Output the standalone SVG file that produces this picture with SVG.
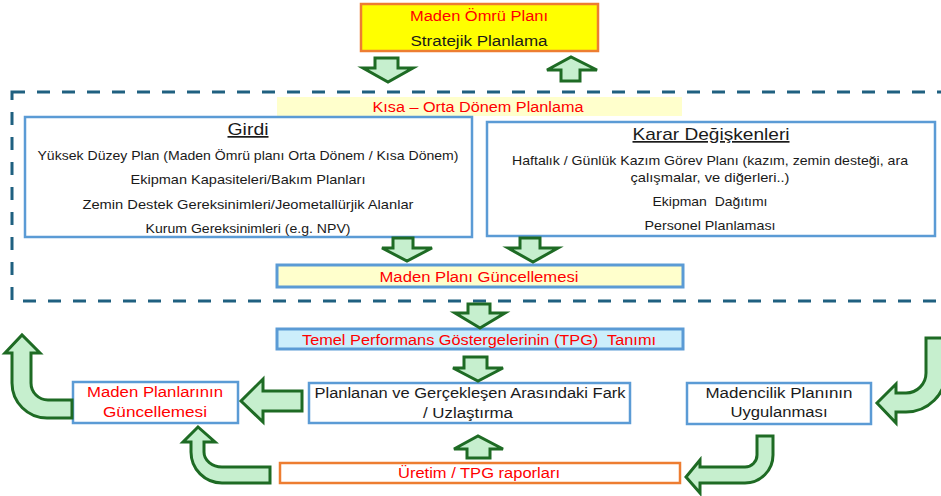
<svg xmlns="http://www.w3.org/2000/svg" width="941" height="496" viewBox="0 0 941 496">
<style>
text{font-family:"Liberation Sans",Arial,sans-serif;text-anchor:middle;white-space:pre}
.r{fill:#FF0000}
.k{fill:#1a1a1a}
.b13{font-size:13px}
.b14{font-size:14px}
.t{font-size:17px;text-decoration:underline}
.blue{fill:#fff;stroke:#5B9BD5;stroke-width:2.5}
.orange{stroke:#ED7D31;stroke-width:2.5}
.arr{fill:#C6EFCE;stroke:#1E6B24;stroke-width:3;stroke-linejoin:miter}
</style>
<rect id="dashed-region" x="12" y="92" width="945" height="209" fill="none" stroke="#1F6080" stroke-width="3" stroke-dasharray="13 12"/>
<g id="n-lom">
<rect x="361" y="4" width="237" height="47" fill="#FFFF00" class="orange"/>
<text x="479" y="21" class="r b14" font-size="15" textLength="138" lengthAdjust="spacingAndGlyphs">Maden Ömrü Planı</text>
<text x="479" y="46" class="k b14" font-size="15" textLength="137" lengthAdjust="spacingAndGlyphs">Stratejik Planlama</text>
</g>
<g id="n-banner">
<rect x="277" y="97" width="405" height="19" fill="#FFFFCC"/>
<text x="478" y="112" class="r b14" textLength="211" lengthAdjust="spacingAndGlyphs">Kısa – Orta Dönem Planlama</text>
</g>
<g id="n-girdi">
<rect x="25" y="117" width="447" height="120" class="blue"/>
<text x="248" y="135" class="k t" textLength="41" lengthAdjust="spacingAndGlyphs">Girdi</text>
<text x="248" y="160" class="k b13" textLength="421" lengthAdjust="spacingAndGlyphs">Yüksek Düzey Plan (Maden Ömrü planı Orta Dönem / Kısa Dönem)</text>
<text x="248" y="184" class="k b13" textLength="235" lengthAdjust="spacingAndGlyphs">Ekipman Kapasiteleri/Bakım Planları</text>
<text x="248" y="209" class="k b13" textLength="331" lengthAdjust="spacingAndGlyphs">Zemin Destek Gereksinimleri/Jeometallürjik Alanlar</text>
<text x="248" y="233" class="k b13" textLength="205" lengthAdjust="spacingAndGlyphs">Kurum Gereksinimleri (e.g. NPV)</text>
</g>
<g id="n-karar">
<rect x="487" y="122" width="448" height="114" class="blue"/>
<text x="711" y="140" class="k t" textLength="157" lengthAdjust="spacingAndGlyphs">Karar Değişkenleri</text>
<text x="710" y="165" class="k b13" textLength="396" lengthAdjust="spacingAndGlyphs">Haftalık / Günlük Kazım Görev Planı (kazım, zemin desteği, ara</text>
<text x="710" y="182" class="k b13" textLength="159" lengthAdjust="spacingAndGlyphs">çalışmalar, ve diğerleri..)</text>
<text x="710" y="206" class="k b13" textLength="115" lengthAdjust="spacingAndGlyphs" xml:space="preserve">Ekipman  Dağıtımı</text>
<text x="710" y="230" class="k b13" textLength="131" lengthAdjust="spacingAndGlyphs">Personel Planlaması</text>
</g>
<g id="n-mpg">
<rect x="277" y="265" width="406" height="22" fill="#FFFFCC" stroke="#5B9BD5" stroke-width="3"/>
<text x="479" y="282" class="r b14" textLength="199" lengthAdjust="spacingAndGlyphs">Maden Planı Güncellemesi</text>
</g>
<g id="n-tpg">
<rect x="277" y="329" width="406" height="20" fill="#CCEEFB" stroke="#5B9BD5" stroke-width="3"/>
<text x="479" y="345" class="r b14" textLength="354" lengthAdjust="spacingAndGlyphs" xml:space="preserve">Temel Performans Göstergelerinin (TPG)  Tanımı</text>
</g>
<g id="n-fark">
<rect x="309" y="383" width="321" height="40" class="blue"/>
<text x="470" y="398" class="k b14" textLength="311" lengthAdjust="spacingAndGlyphs">Planlanan ve Gerçekleşen Arasındaki Fark</text>
<text x="468" y="418" class="k b14" textLength="90" lengthAdjust="spacingAndGlyphs">/ Uzlaştırma</text>
</g>
<g id="n-guncel">
<rect x="73" y="382" width="165" height="41" class="blue"/>
<text x="155" y="397" class="r b14" textLength="136" lengthAdjust="spacingAndGlyphs">Maden Planlarının</text>
<text x="155" y="417" class="r b14" textLength="104" lengthAdjust="spacingAndGlyphs">Güncellemesi</text>
</g>
<g id="n-uygula">
<rect x="687" y="383" width="184" height="41" class="blue"/>
<text x="779" y="398" class="k b14" textLength="147" lengthAdjust="spacingAndGlyphs">Madencilik Planının</text>
<text x="779" y="417" class="k b14" textLength="97" lengthAdjust="spacingAndGlyphs">Uygulanması</text>
</g>
<g id="n-uretim">
<rect x="280" y="463" width="400" height="20" fill="#fff" class="orange"/>
<text x="479" y="478" class="r b14" textLength="162" lengthAdjust="spacingAndGlyphs">Üretim / TPG raporları</text>
</g>
<g id="connectors" class="arr">
<path d="M375,58 H398 V68 H413 L388,82 L363,68 H375 Z"/>
<path d="M561,81 V70 H547 L571,57 L597,70 H580 V81 Z"/>
<path d="M393,238 H413 V248 H432 L407,261 L382,248 H393 Z"/>
<path d="M520,238 H540 V248 H558 L533,262 L508,248 H520 Z"/>
<path d="M468,304 H490 V313 H505 L480,328 L455,313 H468 Z"/>
<path d="M464,357 H487 V368 H503 L478,381 L453,368 H464 Z"/>
<path d="M467,458 V449 H454 L478,436 L503,449 H490 V458 Z"/>
<path d="M302,391 V411 H263 V422 L241,401 L263,379 V391 Z"/>
<path d="M72,400 H48 A17,17 0 0 1 31,383 V353 H40 L22,335 L5,353 H12 V383 A35,35 0 0 0 47,418 H72 Z"/>
<path d="M270,467 H222 A18,15 0 0 1 204,452 V442 H215 L198,427 L183,442 H191 V452 A31,31 0 0 0 222,483 H270 Z"/>
<path d="M926,338 H946 V372 A40,40 0 0 1 906,412 H896 V423 L877,403 L896,384 V393 H906 A20,20 0 0 0 926,373 Z"/>
<path d="M757,436 H773 V455 A28,28 0 0 1 745,483 H700 V493 L686,477 L700,460 V467 H745 A12,12 0 0 0 757,455 Z"/>
</g>
</svg>
